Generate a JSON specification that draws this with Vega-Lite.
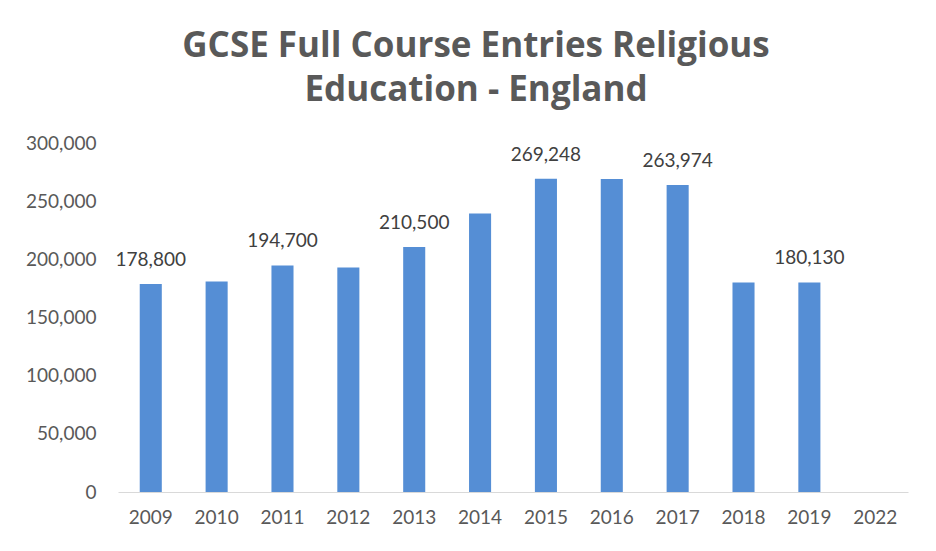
{
  "$schema": "https://vega.github.io/schema/vega-lite/v6.json",
  "autosize": {"type": "none"},
  "width": 790,
  "height": 349,
  "padding": {"left": 118, "top": 143, "right": 28, "bottom": 59},
  "background": "white",
  "title": {
    "text": ["GCSE Full Course Entries Religious", "Education - England"],
    "font": "Open Sans",
    "fontSize": 35,
    "fontWeight": "bold",
    "color": "#595959",
    "anchor": "middle",
    "dx": -37,
    "offset": 26,
    "lineHeight": 44
  },
  "data": {
    "values": [
      {"year": "2009", "entries": 178800, "label": "178,800"},
      {"year": "2010", "entries": 181000, "label": ""},
      {"year": "2011", "entries": 194700, "label": "194,700"},
      {"year": "2012", "entries": 193000, "label": ""},
      {"year": "2013", "entries": 210500, "label": "210,500"},
      {"year": "2014", "entries": 239500, "label": ""},
      {"year": "2015", "entries": 269248, "label": "269,248"},
      {"year": "2016", "entries": 269000, "label": ""},
      {"year": "2017", "entries": 263974, "label": "263,974"},
      {"year": "2018", "entries": 180000, "label": ""},
      {"year": "2019", "entries": 180130, "label": "180,130"},
      {"year": "2022", "entries": null, "label": ""}
    ]
  },
  "encoding": {
    "x": {
      "field": "year",
      "type": "ordinal",
      "sort": null,
      "scale": {
        "domain": ["2009", "2010", "2011", "2012", "2013", "2014", "2015", "2016", "2017", "2018", "2019", "2022"],
        "paddingInner": 0.665,
        "paddingOuter": 0.33
      },
      "axis": {
        "title": null,
        "labelAngle": 0,
        "labelFont": "Lato",
        "labelFontSize": 19,
        "labelColor": "#595959",
        "labelPadding": 16,
        "ticks": false,
        "domainColor": "#d9d9d9",
        "domainWidth": 1
      }
    },
    "y": {
      "field": "entries",
      "type": "quantitative",
      "scale": {"domain": [0, 300000]},
      "axis": {
        "title": null,
        "values": [0, 50000, 100000, 150000, 200000, 250000, 300000],
        "format": ",d",
        "labelFont": "Lato",
        "labelFontSize": 19,
        "labelColor": "#595959",
        "labelPadding": 22,
        "ticks": false,
        "domain": false,
        "grid": false
      }
    }
  },
  "layer": [
    {"mark": {"type": "bar", "color": "#558ED5"}},
    {
      "mark": {"type": "text", "font": "Lato", "fontSize": 19, "color": "#404040", "baseline": "alphabetic", "dy": -18},
      "encoding": {"text": {"field": "label"}}
    }
  ],
  "config": {"view": {"stroke": null}}
}
